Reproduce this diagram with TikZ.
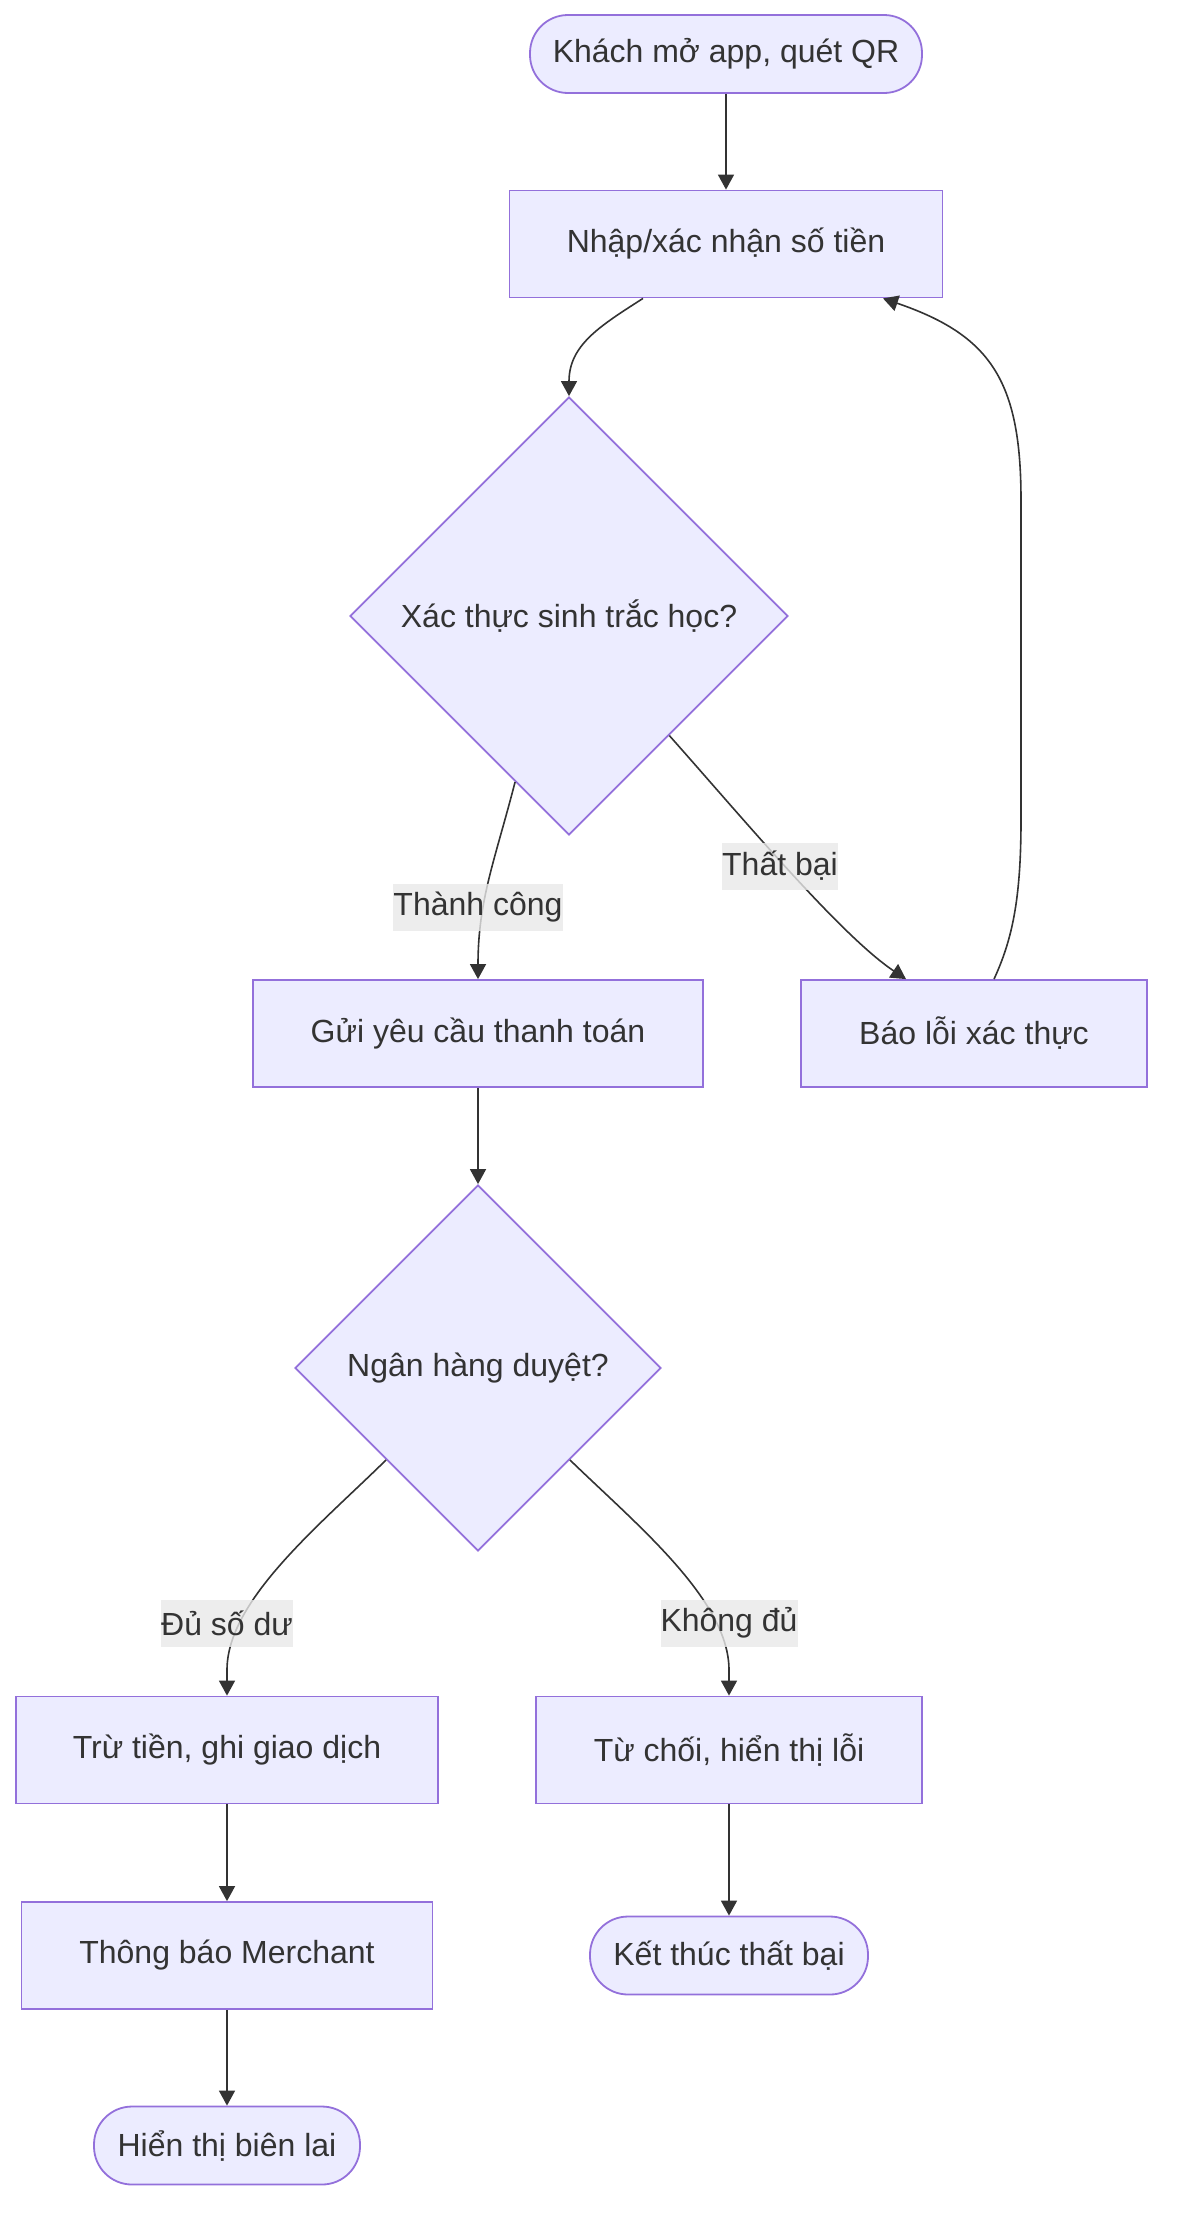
\documentclass[tikz,border=0pt]{standalone}
\usepackage{fontspec}
\setmainfont{Liberation Sans}
\usetikzlibrary{arrows.meta,shapes.geometric,calc}
\definecolor{nodefill}{HTML}{ECECFF}
\definecolor{nodeline}{HTML}{9370DB}
\definecolor{txt}{HTML}{333333}
\definecolor{lblbg}{HTML}{E8E8E8}
\begin{document}
\begin{tikzpicture}[x=1pt,y=-1pt,
  every node/.style={font=\fontsize{32}{38}\selectfont, text=txt},
  procbox/.style={draw=nodeline, fill=nodefill, line width=1.8pt, inner sep=0pt, minimum height=107pt},
  termbox/.style={draw=nodeline, fill=nodefill, line width=1.8pt, inner sep=0pt, minimum height=78pt, rounded corners=38pt},
  decbox/.style={diamond, draw=nodeline, fill=nodefill, line width=1.8pt, inner sep=0pt, aspect=1},
  flow/.style={draw=txt, line width=1.6pt, -{Triangle[length=15pt,width=16pt]}},
  elabel/.style={fill=lblbg, fill opacity=0.8, text opacity=1, inner sep=0pt, minimum height=47pt}
]
\useasboundingbox (0,0) rectangle (1178,2230);

\node[termbox, minimum width=392pt] (A) at (726,54) {Khách mở app, quét QR};
\node[procbox, minimum width=433pt] (B) at (726,244) {Nhập/xác nhận số tiền};
\node[decbox, minimum width=438pt, minimum height=438pt] (C) at (569,616) {Xác thực sinh trắc học?};
\node[procbox, minimum width=450pt] (D) at (478,1033.5) {Gửi yêu cầu thanh toán};
\node[procbox, minimum width=346pt] (E) at (974,1033.5) {Báo lỗi xác thực};
\node[decbox, minimum width=366pt, minimum height=366pt] (F) at (478,1368) {Ngân hàng duyệt?};
\node[procbox, minimum width=422pt] (G) at (227,1750) {Trừ tiền, ghi giao dịch};
\node[procbox, minimum width=386pt] (H) at (729,1750) {Từ chối, hiển thị lỗi};
\node[procbox, minimum width=411pt] (I) at (227,1955.5) {Thông báo Merchant};
\node[termbox, minimum width=278pt] (J) at (729,1955.5) {Kết thúc thất bại};
\node[termbox, minimum width=266pt] (K) at (227,2145.5) {Hiển thị biên lai};

\draw[flow] (A.south) -- (B.north);
\draw[flow] ($(B.south)+(-83,0)$) .. controls (600,326) and (569,345) .. (C.north);
\draw[flow] (C.252.5) .. controls (495,860) and (478,900) .. (D.north);
\draw[flow] (C.310.3) .. controls (740,815) and (840,935) .. ($(E.north)+(-68,0)$);
\draw[flow] ($(E.north)+(20,0)$) .. controls (1012,940) and (1021,900) .. (1021,820) -- (1021,500) .. controls (1021,380) and (990,335) .. ($(B.south)+(157,0)$);
\draw[flow] (D.south) -- (F.north);
\draw[flow] (F.225) .. controls (320,1525) and (227,1600) .. (227,1670) -- (G.north);
\draw[flow] (F.315) .. controls (637,1525) and (729,1600) .. (729,1670) -- (H.north);
\draw[flow] (G.south) -- (I.north);
\draw[flow] (H.south) -- (J.north);
\draw[flow] (I.south) -- (K.north);

\node[elabel] (l1) at (478,907) {Thành công};
\node[elabel] (l2) at (780,866) {Thất bại};
\node[elabel] (l3) at (227,1623) {Đủ số dư};
\node[elabel] (l4) at (729,1623) {Không đủ};
\end{tikzpicture}
\end{document}
